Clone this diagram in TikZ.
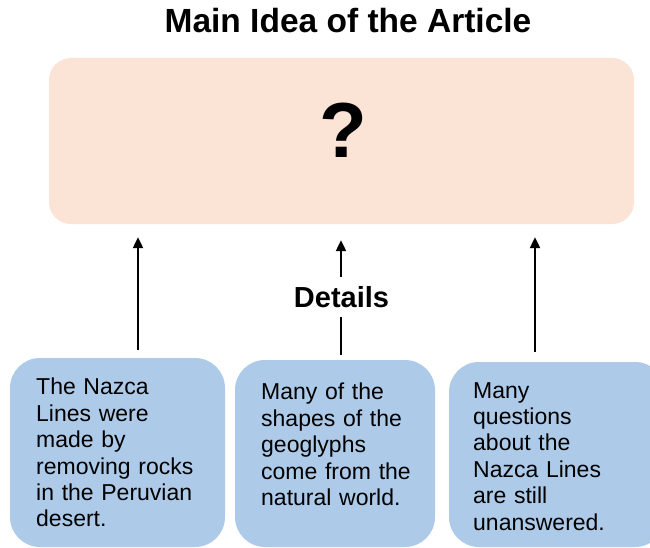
\documentclass[tikz,border=0pt]{standalone}
\usepackage{fontspec}
\setmainfont{Liberation Sans}
\usetikzlibrary{arrows.meta}
\definecolor{peach}{RGB}{251,227,214}
\definecolor{lightblue}{RGB}{173,203,233}
\tikzset{
  mainbox/.style={rectangle, rounded corners=22pt, fill=peach, draw=none, inner sep=0pt,
    minimum width=585pt, minimum height=166pt},
  detailbox/.style={rectangle, rounded corners=30pt, fill=lightblue, draw=none, inner sep=0pt},
  boxtext/.style={anchor=north west, inner sep=0pt, text width=200pt, align=left,
    font=\fontsize{23}{26.4}\selectfont},
  arr/.style={line width=2.2pt, -{Triangle[length=11pt,width=10pt]}},
  plain/.style={line width=2.2pt}
}
\begin{document}
\begin{tikzpicture}[x=1pt,y=-1pt]
\clip (0,0) rectangle (650,548);
\fill[white] (0,0) rectangle (650,548);
\node[anchor=base, inner sep=0pt, font=\bfseries\fontsize{33.5}{36}\selectfont] (title) at (348,33) {Main Idea of the Article};
\node[mainbox] (main) at (341.5,141) {};
\node[anchor=base, inner sep=0pt, font=\bfseries\fontsize{78}{82}\selectfont] (q) at (343,158) {?};

\node[detailbox, minimum width=215pt, minimum height=189pt] (b1) at (117.5,452.5) {};
\node[detailbox, minimum width=200pt, minimum height=187pt] (b2) at (335,453.5) {};
\node[detailbox, minimum width=216pt, minimum height=185pt] (b3) at (557,454.5) {};

\node[boxtext] (t1) at (36,378) {The Nazca\\Lines were\\made by\\removing rocks\\in the Peruvian\\desert.};
\node[boxtext] (t2) at (261,383) {Many of the\\shapes of the\\geoglyphs\\come from the\\natural world.};
\node[boxtext] (t3) at (473,382) {Many\\questions\\about the\\Nazca Lines\\are still\\unanswered.};

\node[anchor=base, inner sep=0pt, font=\bfseries\fontsize{29}{32}\selectfont] (det) at (341.5,307) {Details};

\draw[arr] ([yshift=8pt]b1.north -| 138,0) -- ([yshift=-13pt]main.south -| 138,0);
\draw[arr] ([yshift=10pt]b3.north -| 535,0) -- ([yshift=-13pt]main.south -| 535,0);
\draw[plain] ([yshift=5pt]b2.north -| 341,0) -- ([yshift=-10pt]det.south -| 341,0);
\draw[arr] ([yshift=9pt]det.north -| 341,0) -- ([yshift=-16pt]main.south -| 341,0);
\end{tikzpicture}
\end{document}
